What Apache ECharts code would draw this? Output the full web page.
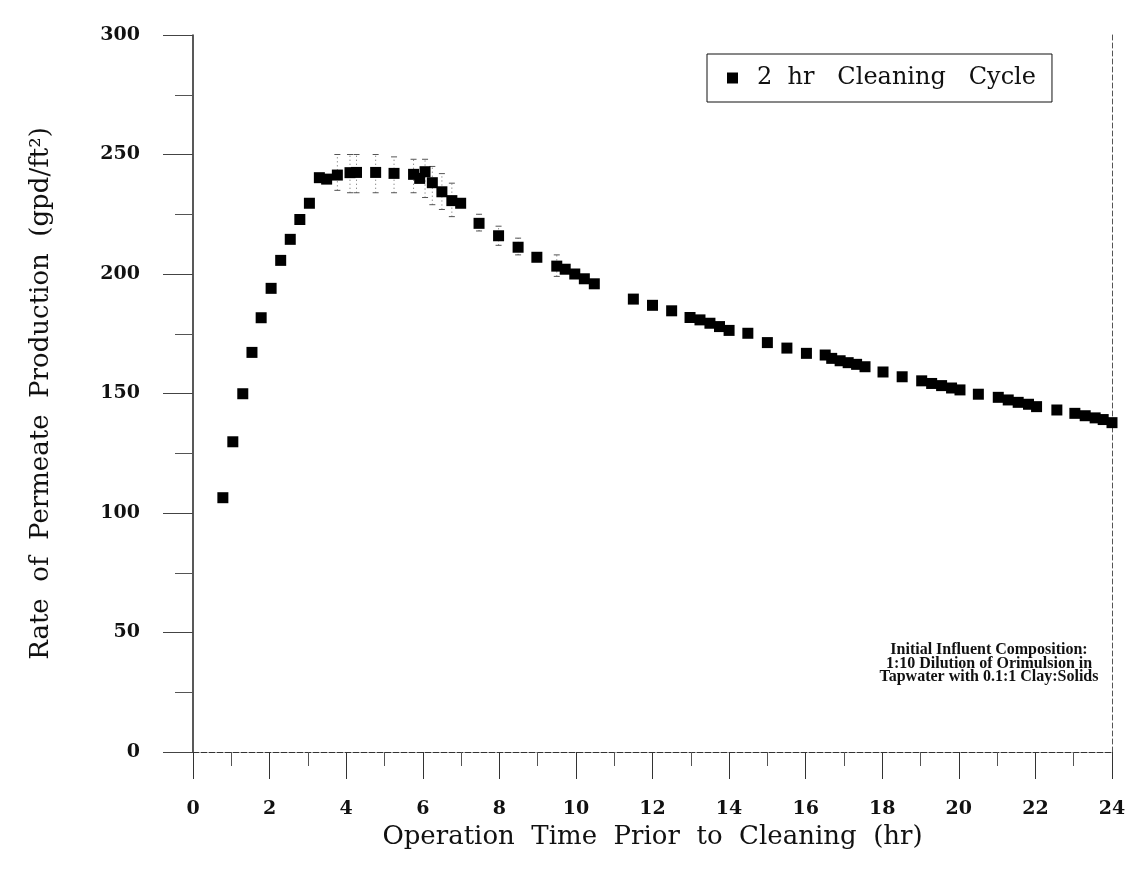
<!DOCTYPE html>
<html>
<head>
<meta charset="utf-8">
<script src="https://cdn.jsdelivr.net/npm/echarts@6/dist/echarts.min.js"></script>
<style>
  html, body { margin: 0; padding: 0; background: #fff; }
  #chart { width: 1136px; height: 888px; }
</style>
</head>
<body>
<div id="chart"></div>
<script>
// operation time (hr) and permeate rate (gpd/ft2)
var hours = [0.78, 1.04, 1.30, 1.54, 1.78, 2.04, 2.29, 2.54, 2.79, 3.04,
    3.30, 3.49, 3.77, 4.10, 4.27, 4.77, 5.25, 5.76, 5.92, 6.06, 6.25, 6.50, 6.76, 6.99,
    7.47, 7.98, 8.49, 8.98, 9.50, 9.72, 9.97, 10.22, 10.48,
    11.50, 12.00, 12.50, 12.98, 13.24, 13.50, 13.75, 14.00, 14.49, 15.00, 15.51,
    16.02, 16.51, 16.68, 16.90, 17.11, 17.33, 17.55, 18.02, 18.52,
    19.03, 19.29, 19.55, 19.81, 20.03, 20.51, 21.03, 21.29, 21.55, 21.82, 22.03,
    22.56, 23.03, 23.30, 23.56, 23.77, 24.00];
var rate = [106.4, 129.8, 149.9, 167.2, 181.7, 194.0, 205.7, 214.5, 222.8, 229.6,
    240.3, 239.7, 241.4, 242.4, 242.5, 242.5, 242.1, 241.7, 240.0, 242.8, 238.2, 234.4, 230.7, 229.6,
    221.2, 216.0, 211.2, 207.0, 203.3, 202.0, 200.0, 198.0, 195.9,
    189.5, 186.9, 184.6, 181.8, 180.8, 179.4, 178.0, 176.4, 175.2, 171.3, 169.0,
    166.8, 166.1, 164.7, 163.7, 162.9, 162.2, 161.2, 159.0, 157.0,
    155.3, 154.2, 153.3, 152.3, 151.5, 149.7, 148.4, 147.3, 146.3, 145.5, 144.5,
    143.1, 141.7, 140.7, 139.8, 139.1, 137.8];
// faint dotted error bars around the peak: time, low, high
var errHours = [3.77, 4.10, 4.27, 4.77, 5.25, 5.76, 6.06, 6.25, 6.50, 6.76, 7.47, 7.98, 8.49, 9.50];
var errLow = [235, 234, 234, 234, 234, 234, 232, 229, 227, 224, 218, 212, 208, 199];
var errHigh = [250, 250, 250, 250, 249, 248, 248, 245, 242, 238, 225, 220, 215, 208];
var xTicks = [0, 24, 2];
var yTicks = [0, 300, 50];
var seriesName = '2 hr Cleaning Cycle';
var noteLines = ['Initial Influent Composition:', '1:10 Dilution of Orimulsion in', 'Tapwater with 0.1:1 Clay:Solids'];

var points = hours.map(function (h, i) { return [h, rate[i]]; });
var errData = errHours.map(function (h, i) { return [h, errLow[i], errHigh[i]]; });
var serif = 'DejaVu Serif';

var chart = echarts.init(document.getElementById('chart'));
chart.setOption({
    animation: false,
    backgroundColor: '#fff',
    grid: { left: 193, right: 24, top: 35, bottom: 136, containLabel: false },
    legend: {
        left: 707, top: 54,
        data: [seriesName],
        icon: 'rect', itemWidth: 11, itemHeight: 11,
        itemStyle: { opacity: 1, color: '#000' },
        borderColor: '#111', borderWidth: 1,
        padding: [12, 16, 12, 20],
        textStyle: { fontFamily: serif, fontSize: 24, color: '#111', padding: [0, 0, 0, 14] },
        formatter: function () { return '2  hr   Cleaning   Cycle'; }
    },
    xAxis: {
        type: 'value', min: xTicks[0], max: xTicks[1], interval: xTicks[2],
        name: 'Operation  Time  Prior  to  Cleaning  (hr)',
        nameLocation: 'middle', nameGap: 65,
        nameTextStyle: { fontFamily: serif, fontSize: 26, color: '#111' },
        axisLine: { lineStyle: { color: '#333', width: 1, type: [6, 2] } },
        axisTick: { inside: false, length: 27, lineStyle: { color: '#333' } },
        minorTick: { show: true, splitNumber: 2, length: 14, lineStyle: { color: '#555' } },
        axisLabel: { margin: 48, fontFamily: serif, fontWeight: 'bold', fontSize: 19, color: '#111' },
        splitLine: { show: false }
    },
    yAxis: [{
        type: 'value', min: yTicks[0], max: yTicks[1], interval: yTicks[2],
        name: 'Rate  of  Permeate  Production  (gpd/ft²)',
        nameLocation: 'middle', nameGap: 139,
        nameTextStyle: { fontFamily: serif, fontSize: 26, color: '#111' },
        axisLine: { show: true, lineStyle: { color: '#222', width: 1.5 } },
        axisTick: { inside: false, length: 30, lineStyle: { color: '#444' } },
        minorTick: { show: true, splitNumber: 2, length: 18, lineStyle: { color: '#555' } },
        axisLabel: { margin: 53, fontFamily: serif, fontWeight: 'bold', fontSize: 19, color: '#111' },
        splitLine: { show: false }
    }, {
        type: 'value', min: yTicks[0], max: yTicks[1], interval: yTicks[2], position: 'right',
        axisLine: { show: true, lineStyle: { color: '#555', width: 1, type: [5, 3] } },
        axisTick: { show: false }, axisLabel: { show: false }, splitLine: { show: false }
    }],
    graphic: noteLines.map(function (t, i) {
        return {
            type: 'text', x: 989, y: 650 + i * 13.5,
            style: {
                text: t, textAlign: 'center', textVerticalAlign: 'middle',
                font: 'bold 16px "Liberation Serif"', fill: '#111'
            }
        };
    }),
    series: [{
        type: 'custom', data: errData, silent: true, z: 1,
        renderItem: function (params, api) {
            var lo = api.coord([api.value(0), api.value(1)]);
            var hi = api.coord([api.value(0), api.value(2)]);
            var st = { stroke: '#666', lineWidth: 1, lineDash: [1, 3] };
            return {
                type: 'group', children: [
                    { type: 'line', shape: { x1: lo[0], y1: lo[1], x2: hi[0], y2: hi[1] }, style: st },
                    { type: 'line', shape: { x1: lo[0] - 3, y1: lo[1], x2: lo[0] + 3, y2: lo[1] }, style: { stroke: '#555', lineWidth: 1 } },
                    { type: 'line', shape: { x1: hi[0] - 3, y1: hi[1], x2: hi[0] + 3, y2: hi[1] }, style: { stroke: '#555', lineWidth: 1 } }
                ]
            };
        }
    }, {
        name: seriesName, type: 'scatter', data: points, z: 3,
        symbol: 'rect', symbolSize: 11,
        itemStyle: { color: '#000', opacity: 1 }
    }]
});
</script>
</body>
</html>
